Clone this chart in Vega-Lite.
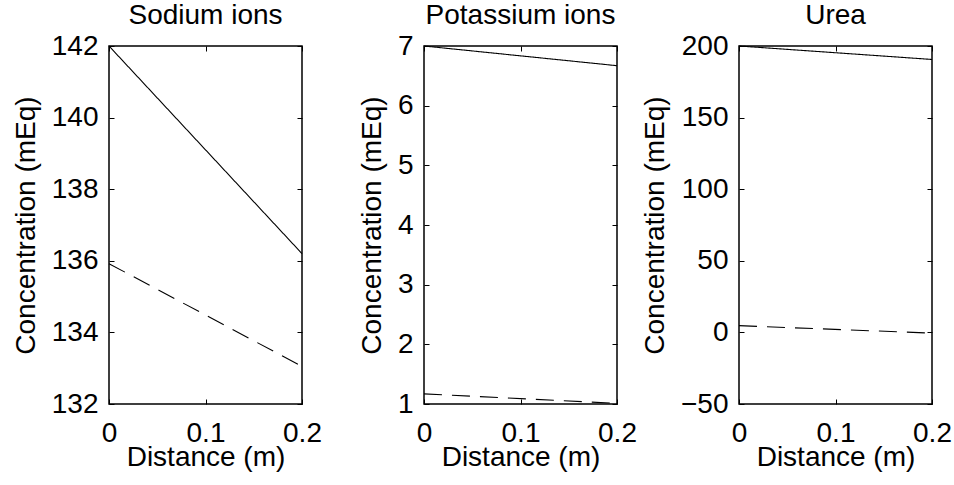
{
  "$schema": "https://vega.github.io/schema/vega-lite/v6.json",
  "padding": {"left": 11, "top": 1, "right": 5, "bottom": 5},
  "bounds": "flush",
  "spacing": 122,
  "datasets": {
    "conc": [
      {"panel": "Sodium ions", "series": "blood", "x": 0, "y": 142.0},
      {"panel": "Sodium ions", "series": "blood", "x": 0.2, "y": 136.2},
      {"panel": "Sodium ions", "series": "dialysate", "x": 0, "y": 135.92},
      {"panel": "Sodium ions", "series": "dialysate", "x": 0.2, "y": 133.05},
      {"panel": "Potassium ions", "series": "blood", "x": 0, "y": 7.0},
      {"panel": "Potassium ions", "series": "blood", "x": 0.2, "y": 6.67},
      {"panel": "Potassium ions", "series": "dialysate", "x": 0, "y": 1.17},
      {"panel": "Potassium ions", "series": "dialysate", "x": 0.2, "y": 1.01},
      {"panel": "Urea", "series": "blood", "x": 0, "y": 200.0},
      {"panel": "Urea", "series": "blood", "x": 0.2, "y": 190.6},
      {"panel": "Urea", "series": "dialysate", "x": 0, "y": 4.7},
      {"panel": "Urea", "series": "dialysate", "x": 0.2, "y": -0.5}
    ]
  },
  "config": {
    "font": "Liberation Sans",
    "view": {"stroke": "black", "strokeWidth": 1.5},
    "axis": {
      "grid": false,
      "domain": false,
      "labelFont": "Liberation Sans",
      "labelFontSize": 28,
      "labelColor": "black",
      "titleFont": "Liberation Sans",
      "titleFontSize": 28,
      "titleFontWeight": "normal",
      "titleColor": "black",
      "tickColor": "black",
      "tickSize": -5,
      "tickWidth": 1,
      "labelFlush": false,
      "labelOverlap": false
    },
    "axisX": {"labelPadding": 20, "titlePadding": -4},
    "axisY": {"labelPadding": 16, "titlePadding": 11},
    "title": {"font": "Liberation Sans", "fontSize": 28, "fontWeight": "normal", "color": "black", "offset": 2, "anchor": "middle", "frame": "group"}
  },
  "hconcat": [
    {
      "width": 193, "height": 358,
      "title": "Sodium ions",
      "data": {"name": "conc"},
      "transform": [{"filter": "datum.panel === 'Sodium ions'"}],
      "layer": [
        {
          "mark": {"type": "line", "color": "black", "strokeWidth": 1.1},
          "encoding": {
            "x": {"field": "x", "type": "quantitative", "scale": {"domain": [0, 0.2], "nice": false, "zero": false}, "axis": {"orient": "bottom", "values": [0, 0.1, 0.2], "format": ".1~f", "title": "Distance (m)"}},
            "y": {"field": "y", "type": "quantitative", "scale": {"domain": [132, 142], "nice": false, "zero": false}, "axis": {"orient": "left", "values": [132, 134, 136, 138, 140, 142], "title": "Concentration (mEq)"}},
            "strokeDash": {"field": "series", "type": "nominal", "scale": {"domain": ["blood", "dialysate"], "range": [[1, 0], [18, 10]]}, "legend": null}
          }
        },
        {
          "mark": {"type": "line", "opacity": 0},
          "encoding": {
            "x": {"field": "x", "type": "quantitative", "axis": {"orient": "top", "values": [0, 0.1, 0.2], "labels": false, "title": null}},
            "y": {"field": "y", "type": "quantitative", "axis": {"orient": "right", "values": [132, 134, 136, 138, 140, 142], "labels": false, "title": null}},
            "detail": {"field": "series"}
          }
        }
      ],
      "resolve": {"axis": {"x": "independent", "y": "independent"}}
    },
    {
      "width": 193, "height": 358,
      "title": "Potassium ions",
      "data": {"name": "conc"},
      "transform": [{"filter": "datum.panel === 'Potassium ions'"}],
      "layer": [
        {
          "mark": {"type": "line", "color": "black", "strokeWidth": 1.1},
          "encoding": {
            "x": {"field": "x", "type": "quantitative", "scale": {"domain": [0, 0.2], "nice": false, "zero": false}, "axis": {"orient": "bottom", "values": [0, 0.1, 0.2], "format": ".1~f", "title": "Distance (m)"}},
            "y": {"field": "y", "type": "quantitative", "scale": {"domain": [1, 7], "nice": false, "zero": false}, "axis": {"orient": "left", "values": [1, 2, 3, 4, 5, 6, 7], "title": "Concentration (mEq)"}},
            "strokeDash": {"field": "series", "type": "nominal", "scale": {"domain": ["blood", "dialysate"], "range": [[1, 0], [18, 10]]}, "legend": null}
          }
        },
        {
          "mark": {"type": "line", "opacity": 0},
          "encoding": {
            "x": {"field": "x", "type": "quantitative", "axis": {"orient": "top", "values": [0, 0.1, 0.2], "labels": false, "title": null}},
            "y": {"field": "y", "type": "quantitative", "axis": {"orient": "right", "values": [1, 2, 3, 4, 5, 6, 7], "labels": false, "title": null}},
            "detail": {"field": "series"}
          }
        }
      ],
      "resolve": {"axis": {"x": "independent", "y": "independent"}}
    },
    {
      "width": 193, "height": 358,
      "title": "Urea",
      "data": {"name": "conc"},
      "transform": [{"filter": "datum.panel === 'Urea'"}],
      "layer": [
        {
          "mark": {"type": "line", "color": "black", "strokeWidth": 1.1},
          "encoding": {
            "x": {"field": "x", "type": "quantitative", "scale": {"domain": [0, 0.2], "nice": false, "zero": false}, "axis": {"orient": "bottom", "values": [0, 0.1, 0.2], "format": ".1~f", "title": "Distance (m)"}},
            "y": {"field": "y", "type": "quantitative", "scale": {"domain": [-50, 200], "nice": false, "zero": false}, "axis": {"orient": "left", "values": [-50, 0, 50, 100, 150, 200], "title": "Concentration (mEq)"}},
            "strokeDash": {"field": "series", "type": "nominal", "scale": {"domain": ["blood", "dialysate"], "range": [[1, 0], [18, 10]]}, "legend": null}
          }
        },
        {
          "mark": {"type": "line", "opacity": 0},
          "encoding": {
            "x": {"field": "x", "type": "quantitative", "axis": {"orient": "top", "values": [0, 0.1, 0.2], "labels": false, "title": null}},
            "y": {"field": "y", "type": "quantitative", "axis": {"orient": "right", "values": [-50, 0, 50, 100, 150, 200], "labels": false, "title": null}},
            "detail": {"field": "series"}
          }
        }
      ],
      "resolve": {"axis": {"x": "independent", "y": "independent"}}
    }
  ]
}
